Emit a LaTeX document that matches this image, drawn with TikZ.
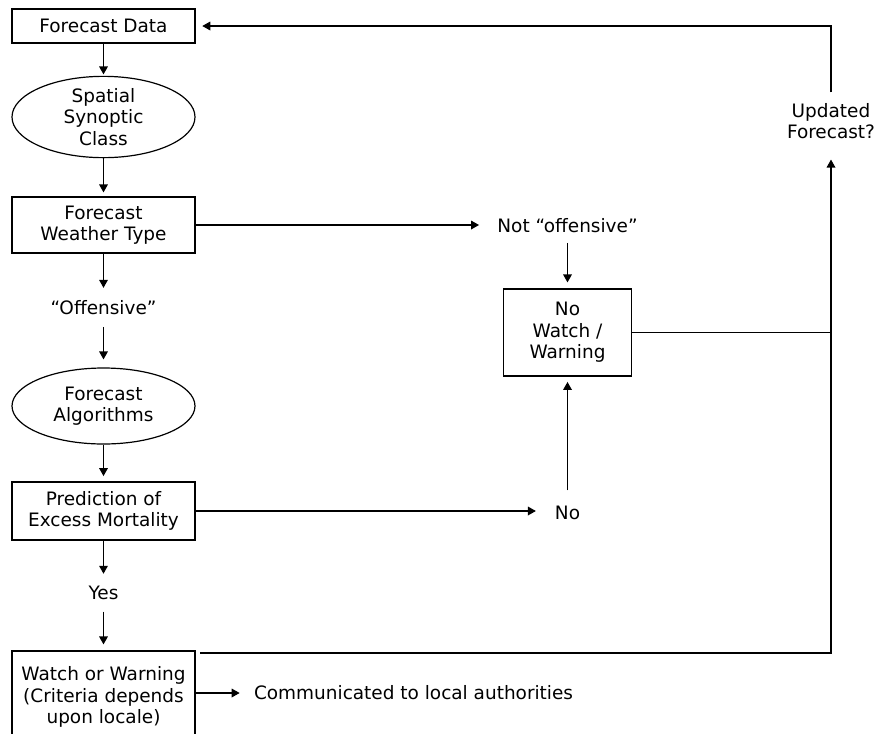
\documentclass[tikz,border=0pt]{standalone}
\usepackage{fontspec}
\setmainfont{DejaVu Sans}
\usetikzlibrary{arrows.meta, positioning, shapes.geometric}
\def\colx{103.5}
\def\rcolx{567.5}

\begin{document}
\begin{tikzpicture}[x=0.75pt, y=-0.75pt, shorten >=1pt, ->, >={Triangle[length=6pt,width=6.5pt]}, line width=0.9pt, font=\fontsize{13.85}{16.2}\selectfont]
    \tikzstyle{block}=[rectangle, draw=black, minimum width=137.25pt, inner sep=2pt, align=center]
    \tikzstyle{oval}=[ellipse, draw=black, minimum width=137.25pt, inner sep=0pt, align=center]
    \tikzstyle{tag}=[align=center]

    \useasboundingbox (0,0) rectangle (879,733);

    % Draw the left column
    \node[block, minimum height=25.5pt] (fdata) at (\colx,26) {Forecast Data};
    \node[oval, minimum height=60pt] (ssc) at (\colx,117) {Spatial\\Synoptic\\Class};
    \node[block, minimum height=42pt] (fwt) at (\colx,225) {Forecast\\Weather Type};
    \node[tag] (offn) at (\colx,308) {“Offensive”};
    \node[oval, minimum height=57pt] (falg) at (\colx,406) {Forecast\\Algorithms};
    \node[block, minimum height=43.5pt] (pem) at (\colx,511) {Prediction of\\Excess Mortality};
    \node[tag] (yes) at (\colx,593) {Yes};
    \node[block, minimum height=69pt] (ww) at (\colx,697) {Watch or Warning\\(Criteria depends\\upon locale)};
    \node[tag, anchor=west] (comm) at (249,693) {Communicated to local authorities};

    % Draw the right column
    \node[tag] (notoff) at (\rcolx,226) {Not “offensive”};
    \node[block, minimum width=96pt, minimum height=65.25pt] (nww) at (\rcolx,332.5) {No\\Watch /\\Warning};
    \node[tag] (no) at (\rcolx,513) {No};
    \node[tag, inner sep=7.5pt] (upd) at (831,121) {Updated\\Forecast?};
    \coordinate (wwout) at (200,653);

    % Connect the left column
    \draw (fdata) -- (ssc);
    \draw[shorten >=3pt] (ssc) -- (fwt);
    \draw[shorten >=6pt] (fwt) -- (offn);
    \draw[shorten <=5pt, shorten >=6pt] (offn) -- (falg);
    \draw[shorten >=4pt] (falg) -- (pem);
    \draw[shorten >=5.5pt] (pem) -- (yes);
    \draw[shorten <=5pt, shorten >=4.5pt] (yes) -- (ww);
    \draw[shorten >=7pt] (ww.east |- comm.west) -- (comm.west);

    % Connect to the right column
    \draw[shorten >=10pt] (fwt.east) -- (fwt.east -| notoff.west);
    \draw[shorten <=3.5pt, shorten >=4.5pt] (notoff) -- (nww);
    \draw[shorten >=10.5pt] (pem.east) -- (pem.east -| no.west);
    \draw[shorten <=8pt, shorten >=4pt] (no) -- (nww);

    % Feed back to the forecast data
    \draw[-] (nww.east) -- (nww.east -| upd.south);
    \draw[shorten >=7.5pt] (wwout) -- (wwout -| upd.south) -- (upd.south);
    \draw[shorten >=5pt] (upd.north) -- (upd.north |- fdata.east) -- (fdata.east);

\end{tikzpicture}
\end{document}
